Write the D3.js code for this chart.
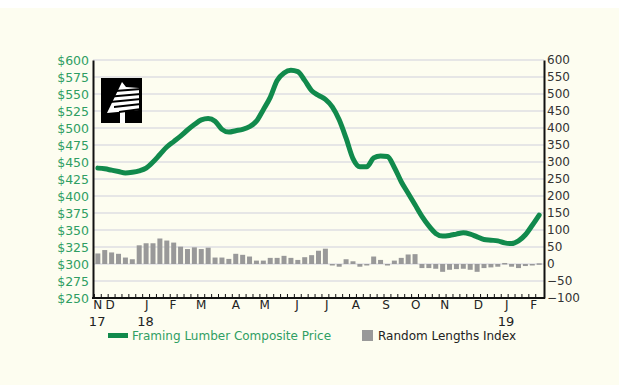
<!DOCTYPE html>
<html>
<head>
	<title></title>
	<script src="https://cdn.jsdelivr.net/npm/d3@7/dist/d3.min.js"></script>
	<style type="text/css">
		body{
			margin: 0;
			padding: 0;
			background: #fff;
		}
		svg{
			display: block;
			font-family: "DejaVu Sans", sans-serif;
		}
	</style>
</head>
<body>
	<svg id="svg" width="619" height="385"></svg>
</body>
	<script type="text/javascript">
		// weekly Framing Lumber Composite Price ($), Nov 2017 - Feb 2019
		let priceValues = [
			441,440,438,436,434,435,437,441,450,461,
			472,480,488,497,505,512,514,510,498,494,
			496,498,502,510,527,545,570,581,585,583,
			570,555,548,542,531,512,485,455,443,443,
			456,459,458,442,421,404,387,370,356,345,
			341,342,344,346,344,340,336,335,334,331,
			330,334,343,357,372
		];
		// weekly Random Lengths Index
		let indexValues = [
			31,41,34,30,19,14,55,61,61,75,
			69,63,51,44,49,44,48,19,19,15,
			30,27,22,10,10,18,18,24,18,12,
			20,26,39,45,-2,-8,14,8,-8,-2,
			22,12,-2,10,18,28,29,-12,-12,-14,
			-23,-17,-15,-14,-17,-23,-12,-10,-8,3,
			-8,-12,-6,-4,2
		];
		let monthLabels = ["N","D","J","F","M","A","M","J","J","A","S","O","N","D","J","F"];
		let monthWeeks = [0,1.8,7.1,10.9,15,20,24.2,28.9,33.2,37.4,41.8,46.1,50.3,55.2,59.3,63.2];
		let yearLabels = ["17","18","19"];
		let yearWeeks = [-0.1,6.9,59.2];
		let priceTicks = d3.range(250,601,25);
		let indexTicks = d3.range(-100,601,50);
		let legendLabels = ["Framing Lumber Composite Price","Random Lengths Index"];

		let green = '#118a4c';
		let greenText = '#2f9e63';

		let svg = d3.select('#svg');

		// cream panel
		svg.append('rect')
			.attr('x',0)
			.attr('y',8)
			.attr('width',619)
			.attr('height',377)
			.style('fill','#fdfdf0');

		let x = d3.scaleLinear().domain([-0.7,64.7]).range([93,544]);
		let yL = d3.scaleLinear().domain([250,600]).range([298,60]);
		let yR = d3.scaleLinear().domain([-100,600]).range([298,60]);

		// grid lines
		svg.append('g')
			.selectAll('line')
			.data(priceTicks.slice(1))
			.enter().append('line')
			.attr('x1',x.range()[0])
			.attr('x2',x.range()[1])
			.attr('y1',d=>yL(d))
			.attr('y2',d=>yL(d))
			.style('stroke','#e6e6e6')
			.style('stroke-width',2);

		// index bars
		let bw = 5;
		svg.append('g')
			.selectAll('rect')
			.data(indexValues)
			.enter().append('rect')
			.attr('x',(d,i)=>x(i)-bw/2)
			.attr('y',d=>d>=0 ? yR(d) : yR(0))
			.attr('width',bw)
			.attr('height',d=>Math.max(1.5,Math.abs(yR(d)-yR(0))))
			.style('fill','#999');

		// price line
		let line = d3.line()
			.x((d,i)=>x(i))
			.y(d=>yL(d))
			.curve(d3.curveMonotoneX);

		svg.append('path')
			.datum(priceValues)
			.attr('d',line)
			.style('fill','none')
			.style('stroke',green)
			.style('stroke-width',5)
			.style('stroke-linejoin','round')
			.style('stroke-linecap','round');

		// left axis
		let leftAxis = svg.append('g')
			.attr('transform','translate('+x.range()[0]+',0)')
			.call(d3.axisLeft(yL).tickValues(priceTicks).tickSize(0).tickPadding(4).tickFormat(d=>'$'+d));
		leftAxis.select('.domain').style('stroke','#111').style('stroke-width',2);
		leftAxis.selectAll('text')
			.style('font-family','"DejaVu Sans", sans-serif')
			.style('font-size','12.5px')
			.style('fill',greenText);

		// right axis
		let rightAxis = svg.append('g')
			.attr('transform','translate('+x.range()[1]+',0)')
			.call(d3.axisRight(yR).tickValues(indexTicks).tickSize(0).tickPadding(3).tickFormat(d=>d<0 ? '\u2212'+(-d) : d));
		rightAxis.select('.domain').style('stroke','#111').style('stroke-width',2);
		rightAxis.selectAll('text')
			.style('font-family','"DejaVu Sans", sans-serif')
			.style('font-size','12px')
			.style('fill','#333');

		// bottom axis with weekly ticks
		svg.append('line')
			.attr('x1',x.range()[0]-1)
			.attr('x2',x.range()[1]+1)
			.attr('y1',yL(250))
			.attr('y2',yL(250))
			.style('stroke','#111')
			.style('stroke-width',2);

		svg.append('g')
			.selectAll('line')
			.data(d3.range(0,65))
			.enter().append('line')
			.attr('x1',d=>x(d-0.5))
			.attr('x2',d=>x(d-0.5))
			.attr('y1',yL(250))
			.attr('y2',yL(250)-4)
			.style('stroke','#111')
			.style('stroke-width',1);

		svg.append('g')
			.selectAll('text')
			.data(monthLabels)
			.enter().append('text')
			.attr('x',(d,i)=>x(monthWeeks[i]))
			.attr('y',309)
			.style('text-anchor','middle')
			.style('font-size','12px')
			.style('fill','#222')
			.text(d=>d);

		svg.append('g')
			.selectAll('text')
			.data(yearLabels)
			.enter().append('text')
			.attr('x',(d,i)=>x(yearWeeks[i]))
			.attr('y',326)
			.style('text-anchor','middle')
			.style('font-size','13px')
			.style('fill','#222')
			.text(d=>d);

		// logo
		let logo = svg.append('g').attr('transform','translate(101,78)');
		logo.append('rect')
			.attr('width',41)
			.attr('height',45)
			.style('fill','#000');
		logo.append('path')
			.attr('d','M21,4 L25,9 L38,10 L38,32 L6,35 Z')
			.style('fill','#fff');
		logo.append('rect')
			.attr('x',19).attr('y',34).attr('width',5).attr('height',11)
			.style('fill','#fff');
		// dark stripes across the tree
		[[13,11],[17,16],[21,21],[25,26],[30,31]].forEach(function(s){
			logo.append('path')
				.attr('d','M'+(s[0]-12)+','+(s[1]+2)+' L40,'+(s[1]-1)+' L40,'+(s[1]+1)+' L'+(s[0]-12)+','+(s[1]+4)+' Z')
				.style('fill','#000');
		});

		// legend
		let legend = svg.append('g');
		legend.append('rect')
			.attr('x',108).attr('y',333).attr('width',20).attr('height',5)
			.style('fill',green);
		legend.append('text')
			.attr('x',132).attr('y',340)
			.style('font-size','12px')
			.style('fill',greenText)
			.text(legendLabels[0]);
		legend.append('rect')
			.attr('x',362).attr('y',330).attr('width',11).attr('height',11)
			.style('fill','#999');
		legend.append('text')
			.attr('x',378).attr('y',340)
			.style('font-size','12px')
			.style('fill','#222')
			.text(legendLabels[1]);
	</script>
</html>
